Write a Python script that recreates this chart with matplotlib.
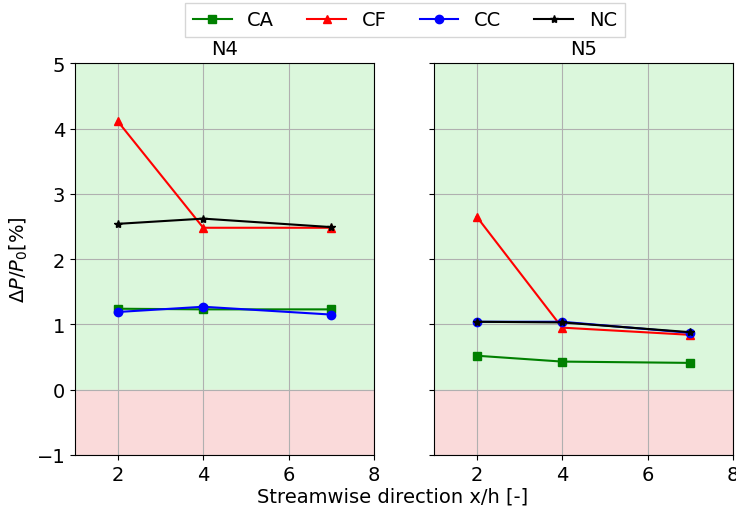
import matplotlib
matplotlib.use("Agg")
import matplotlib.pyplot as plt

x = [2, 4, 7]
n4_CA = [1.24, 1.23, 1.23]
n4_CF = [4.11, 2.48, 2.48]
n4_CC = [1.19, 1.27, 1.15]
n4_NC = [2.54, 2.62, 2.49]
n5_CA = [0.52, 0.43, 0.41]
n5_CF = [2.65, 0.95, 0.84]
n5_CC = [1.04, 1.04, 0.87]
n5_NC = [1.04, 1.03, 0.88]
titles = ["N4", "N5"]

plt.rcParams['font.size'] = 14
fig, axes = plt.subplots(1, 2, figsize=(7.36, 5.1), dpi=100, sharey=True)
fig.subplots_adjust(left=0.102, right=0.996, top=0.874, bottom=0.106, wspace=0.2)

data = [(n4_CA, n4_CF, n4_CC, n4_NC), (n5_CA, n5_CF, n5_CC, n5_NC)]
for ax, (ca, cf, cc, nc), t in zip(axes, data, titles):
    ax.axhspan(0, 5, color='#dbf7dc', zorder=0)
    ax.axhspan(-1, 0, color='#fadada', zorder=0)
    ax.plot(x, ca, color='green', marker='s', markersize=6, label='CA')
    ax.plot(x, cf, color='red', marker='^', markersize=6, label='CF')
    ax.plot(x, cc, color='blue', marker='o', markersize=6, label='CC')
    ax.plot(x, nc, color='black', marker='*', markersize=6, label='NC')
    ax.set_xlim(1, 8)
    ax.set_ylim(-1, 5)
    ax.set_xticks([2, 4, 6, 8])
    ax.set_yticks([-1, 0, 1, 2, 3, 4, 5])
    ax.grid(True, color='#b0b0b0')
    ax.set_axisbelow(True)
    ax.set_title(t, fontsize=14, pad=7)

axes[0].set_ylabel(r'$\Delta P/P_0 [\%]$')
axes[0].yaxis.set_label_coords(-0.15, 0.5)
h, l = axes[0].get_legend_handles_labels()
fig.legend(h, l, loc='upper center', ncol=4, bbox_to_anchor=(0.55, 1.012), fontsize=14,
           fancybox=False, columnspacing=1.7)
fig.text(0.533, 0.026, 'Streamwise direction x/h [-]', ha='center', va='center', fontsize=14)
fig.savefig('out.png')
